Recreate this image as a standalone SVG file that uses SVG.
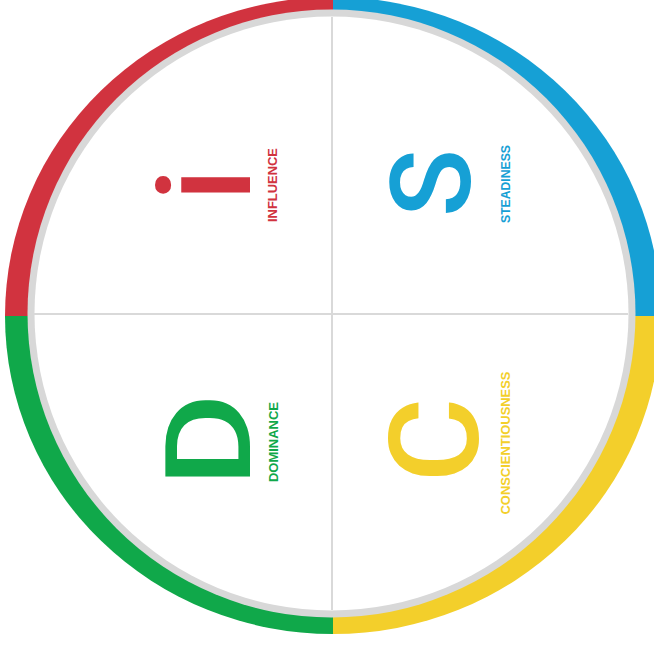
<svg xmlns="http://www.w3.org/2000/svg" width="654" height="650" viewBox="0 0 654 650">
<style>
.big{font-family:Roboto,"Liberation Sans",Arial,sans-serif;font-weight:500;text-anchor:middle}
.lbl{font-family:"Liberation Sans",Arial,sans-serif;font-weight:bold;font-size:13px;text-anchor:middle}
.div{stroke:#d9d9d9;stroke-width:2;fill:none}
</style>
<rect width="654" height="650" fill="#ffffff"/>
<g id="ring">
<path d="M333 316 L333 -3 A328 319 0 0 0 5 316 Z" fill="#d1333f"/>
<path d="M333 316 L333 -3 A328 319 0 0 1 661 316 Z" fill="#16a0d5"/>
<path d="M333 316 L661 316 A328 318 0 0 1 333 634 Z" fill="#f3cf2b"/>
<path d="M333 316 L333 634 A328 318 0 0 1 5 316 Z" fill="#10a84a"/>
<circle cx="331.5" cy="313.5" r="304" fill="#d8d8d8"/>
<circle cx="331.5" cy="313.5" r="297" fill="#ffffff"/>
</g>
<g id="dividers">
<line class="div" x1="332" y1="17" x2="332" y2="610"/>
<line class="div" x1="34" y1="314" x2="628" y2="314"/>
</g>
<g id="node-i">
<text class="big" transform="translate(250,185) rotate(-90)" font-size="130" fill="#d1333f">i</text>
<text class="lbl" transform="translate(277,185) rotate(-90)" fill="#d1333f" textLength="74" lengthAdjust="spacingAndGlyphs">INFLUENCE</text>
</g>
<g id="node-s">
<text class="big" transform="translate(470,183) rotate(-90)" font-size="112" fill="#16a0d5">S</text>
<text class="lbl" transform="translate(510,184) rotate(-90)" fill="#16a0d5" textLength="78" lengthAdjust="spacingAndGlyphs">STEADINESS</text>
</g>
<g id="node-d">
<text class="big" transform="translate(250,440) rotate(-90) scale(1.22,1)" font-size="118" fill="#10a84a">D</text>
<text class="lbl" transform="translate(278,442) rotate(-90)" fill="#10a84a" textLength="80" lengthAdjust="spacingAndGlyphs">DOMINANCE</text>
</g>
<g id="node-c">
<text class="big" transform="translate(478,440) rotate(-90) scale(1.05,1)" font-size="124" fill="#f3cf2b">C</text>
<text class="lbl" transform="translate(510,443) rotate(-90)" fill="#f3cf2b" textLength="143" lengthAdjust="spacingAndGlyphs">CONSCIENTIOUSNESS</text>
</g>
</svg>
